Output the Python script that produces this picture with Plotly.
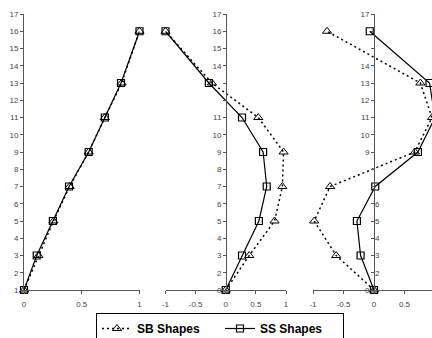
import plotly.graph_objects as go

# ---- data ----
y_levels = [1, 3, 5, 7, 9, 11, 13, 16]

p1_sb = [0, 0.125, 0.255, 0.395, 0.56, 0.70, 0.845, 1.0]
p1_ss = [0, 0.11, 0.25, 0.39, 0.56, 0.70, 0.84, 1.0]

p2_sb = [0, 0.39, 0.81, 0.94, 0.96, 0.54, -0.23, -1.0]
p2_ss = [0, 0.27, 0.55, 0.68, 0.62, 0.27, -0.28, -1.0]

p3_sb = [0, -0.62, -0.98, -0.72, 0.67, 0.95, 0.76, -0.77]
p3_ss = [0, -0.22, -0.28, 0.02, 0.72, 1.0, 0.91, -0.07]

y_tickvals = list(range(1, 18))
p1_yticktext = [str(v) for v in range(1, 18)]
p2_yticktext = ["0", "2", "3", "4", "5", "6", "7", "8", "9", "10", "11", "", "", "14", "15", "16", "17"]
p3_yticktext_left = ["0", "", "", "", "", "", "", "", "9", "10", "11", "12", "13", "14", "", "", "17"]
p3_right_vals = [2, 3, 4, 5, 6]
p3_right_text = ["2", "3", "4", "5", "6"]

p1_xticks = [0, 0.5, 1]
p2_xticks = [-1, -0.5, 0, 0.5, 1]
p3_xticks = [-1, -0.5, 0, 0.5]

W, H = 432, 338
FONT = "Liberation Sans, Arial, sans-serif"

fig = go.Figure()

panels = [
    ("x", "y", p1_sb, p1_ss, True),
    ("x2", "y2", p2_sb, p2_ss, False),
    ("x3", "y3", p3_sb, p3_ss, False),
]
for xa, ya, sb, ss, show in panels:
    fig.add_trace(go.Scatter(
        x=sb, y=y_levels, xaxis=xa, yaxis=ya, mode="lines+markers",
        name="SB Shapes", showlegend=show, cliponaxis=False,
        line=dict(color="black", width=1.5, dash="2px,3px"),
        marker=dict(symbol="triangle-up-open", size=8, color="black", line=dict(width=1, color="black")),
    ))
    fig.add_trace(go.Scatter(
        x=ss, y=y_levels, xaxis=xa, yaxis=ya, mode="lines+markers",
        name="SS Shapes", showlegend=show, cliponaxis=False,
        line=dict(color="black", width=1.2),
        marker=dict(symbol="square-open", size=7, color="black", line=dict(width=1.2, color="black")),
    ))

# invisible trace for right-side labels of panel 3
fig.add_trace(go.Scatter(x=[None], y=[None], xaxis="x3", yaxis="y4", showlegend=False, hoverinfo="skip"))

ydom = [1 - 290 / H, 1 - 14 / H]
tickfont = dict(family=FONT, size=8, color="#444")
axline = dict(showline=True, linecolor="#555", linewidth=1, showgrid=False, zeroline=False,
              ticks="outside", ticklen=3, tickcolor="#555", tickfont=tickfont, automargin=False)
xextra = dict(ticklabelstandoff=3)

fig.update_layout(
    width=W, height=H,
    margin=dict(l=0, r=0, t=0, b=0, autoexpand=False),
    paper_bgcolor="white", plot_bgcolor="rgba(0,0,0,0)",
    font=dict(family=FONT),
    xaxis=dict(domain=[24 / W, 139.5 / W], range=[0, 1], anchor="y",
               tickvals=p1_xticks, ticktext=["0", "0.5", "1"], **axline, **xextra),
    yaxis=dict(domain=ydom, range=[1, 17], anchor="x",
               tickvals=y_tickvals, ticktext=p1_yticktext, **axline),
    xaxis2=dict(domain=[165.5 / W, 286 / W], range=[-1, 1], anchor="y2",
                tickvals=p2_xticks, ticktext=["-1", "-0.5", "0", "0.5", "1"], **axline, **xextra),
    yaxis2=dict(domain=ydom, range=[1, 17], anchor="free", position=226 / W,
                tickvals=y_tickvals, ticktext=p2_yticktext, **axline),
    xaxis3=dict(domain=[313 / W, 1.0], range=[-1, (432 - 374) / 61], anchor="y3",
                tickvals=p3_xticks, ticktext=["-1", "-0.5", "0", "0.5"], **axline, **xextra),
    yaxis3=dict(domain=ydom, range=[1, 17], anchor="free", position=374 / W,
                tickvals=y_tickvals, ticktext=p3_yticktext_left, **axline),
    yaxis4=dict(domain=ydom, range=[1, 17], anchor="free", position=374 / W, overlaying="y3",
                side="right", showline=False, showgrid=False, zeroline=False, ticks="",
                tickvals=p3_right_vals, ticktext=p3_right_text, tickfont=tickfont, automargin=False),
    legend=dict(orientation="h", x=220 / W, xanchor="center", y=1 - 313 / H, yanchor="top",
                bordercolor="black", borderwidth=1, bgcolor="white",
                font=dict(family=FONT, size=12, color="black", weight="bold"),
                itemwidth=30, entrywidth=78, entrywidthmode="pixels"),
)

fig.write_html("out.html", config={"displayModeBar": False},
               post_script="document.body.style.margin='0px';document.body.style.overflow='hidden';")
